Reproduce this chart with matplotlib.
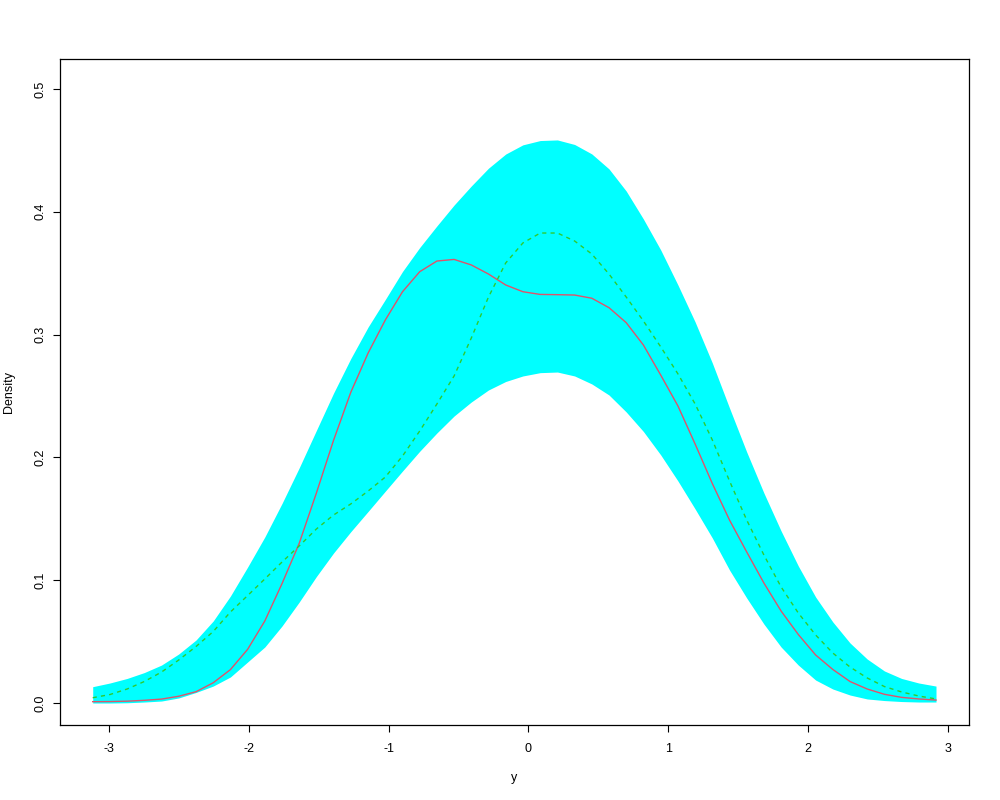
import matplotlib
matplotlib.use("Agg")
import matplotlib.pyplot as plt

# ==========================
# data
# ==========================

x_grid = [
    -3.117, -2.994, -2.871, -2.748, -2.625, -2.502, -2.378, -2.255, -2.132, -2.009,
    -1.886, -1.763, -1.640, -1.517, -1.394, -1.271, -1.147, -1.024, -0.901, -0.778,
    -0.655, -0.532, -0.409, -0.286, -0.163, -0.040, 0.084, 0.207, 0.330, 0.453,
    0.576, 0.699, 0.822, 0.946, 1.069, 1.192, 1.315, 1.438, 1.561, 1.684,
    1.807, 1.930, 2.054, 2.177, 2.300, 2.423, 2.546, 2.669, 2.792, 2.915,
]

band_upper = [
    0.0133, 0.0163, 0.0200, 0.0248, 0.0309, 0.0399, 0.0513, 0.0668, 0.0871, 0.1107,
    0.1352, 0.1625, 0.1915, 0.2220, 0.2524, 0.2805, 0.3062, 0.3286, 0.3514, 0.3709,
    0.3885, 0.4055, 0.4210, 0.4355, 0.4470, 0.4545, 0.4580, 0.4585, 0.4548, 0.4471,
    0.4349, 0.4169, 0.3941, 0.3689, 0.3404, 0.3103, 0.2769, 0.2402, 0.2044, 0.1710,
    0.1401, 0.1116, 0.0863, 0.0660, 0.0489, 0.0358, 0.0261, 0.0200, 0.0163, 0.0138,
]

band_lower = [
    0.0000, 0.0000, 0.0002, 0.0008, 0.0016, 0.0041, 0.0086, 0.0138, 0.0212, 0.0334,
    0.0456, 0.0627, 0.0822, 0.1030, 0.1222, 0.1395, 0.1560, 0.1725, 0.1889, 0.2050,
    0.2199, 0.2337, 0.2451, 0.2549, 0.2618, 0.2663, 0.2690, 0.2695, 0.2663, 0.2598,
    0.2508, 0.2370, 0.2211, 0.2020, 0.1808, 0.1580, 0.1344, 0.1083, 0.0855, 0.0643,
    0.0456, 0.0309, 0.0187, 0.0114, 0.0065, 0.0033, 0.0020, 0.0012, 0.0008, 0.0008,
]

dens_red = [
    0.0011, 0.0012, 0.0015, 0.0022, 0.0032, 0.0055, 0.0092, 0.0165, 0.0272, 0.0437,
    0.0668, 0.0972, 0.1300, 0.1710, 0.2140, 0.2530, 0.2850, 0.3119, 0.3349, 0.3512,
    0.3599, 0.3612, 0.3567, 0.3493, 0.3404, 0.3349, 0.3327, 0.3325, 0.3322, 0.3296,
    0.3219, 0.3097, 0.2915, 0.2670, 0.2419, 0.2109, 0.1787, 0.1490, 0.1230, 0.0977,
    0.0749, 0.0558, 0.0391, 0.0273, 0.0175, 0.0114, 0.0071, 0.0046, 0.0033, 0.0024,
]

dens_green = [
    0.0043, 0.0069, 0.0114, 0.0175, 0.0252, 0.0350, 0.0460, 0.0582, 0.0741, 0.0875,
    0.1010, 0.1148, 0.1279, 0.1417, 0.1531, 0.1621, 0.1726, 0.1840, 0.2011, 0.2215,
    0.2435, 0.2663, 0.2972, 0.3306, 0.3583, 0.3746, 0.3827, 0.3827, 0.3762, 0.3656,
    0.3493, 0.3306, 0.3111, 0.2900, 0.2680, 0.2435, 0.2142, 0.1808, 0.1490, 0.1205,
    0.0945, 0.0733, 0.0554, 0.0407, 0.0293, 0.0204, 0.0134, 0.0090, 0.0057, 0.0033,
]

x_ticks = [-3, -2, -1, 0, 1, 2, 3]
y_ticks = [0.0, 0.1, 0.2, 0.3, 0.4, 0.5]

# ==========================
# plot (R base graphics look)
# ==========================

plt.rcParams["font.family"] = ["Liberation Sans", "DejaVu Sans"]

fig = plt.figure(figsize=(10, 8), dpi=100)
ax = fig.add_axes([0.06, 0.09375, 0.909, 0.8325])

# reference band
ax.fill_between(x_grid, band_lower, band_upper, color="#00FFFF", linewidth=0)

# group estimates
ax.plot(x_grid, dens_red, color="#DF536B", linewidth=1.0)
ax.plot(x_grid, dens_green, color="#2FCB2F", linewidth=1.0, linestyle=(0, (3, 3)))

ax.set_xlim(-3.351, 3.151)
ax.set_ylim(-0.0179, 0.5244)

ax.set_xticks(x_ticks)
ax.set_xticklabels([str(t) for t in x_ticks])
ax.set_yticks(y_ticks)
ax.set_yticklabels(["%.1f" % t for t in y_ticks], rotation=90, va="center")

ax.tick_params(direction="out", length=5, width=0.8, labelsize=9, colors="black")
ax.tick_params(axis="x", pad=8)
ax.tick_params(axis="y", pad=5)
for s in ax.spines.values():
    s.set_linewidth(0.9)
    s.set_color("black")

ax.set_xlabel("y", fontsize=9)
ax.set_ylabel("Density", fontsize=9)
ax.xaxis.set_label_coords(0.5, -0.07)
ax.yaxis.set_label_coords(-0.049, 0.5)

plt.savefig("out.png", dpi=100)
